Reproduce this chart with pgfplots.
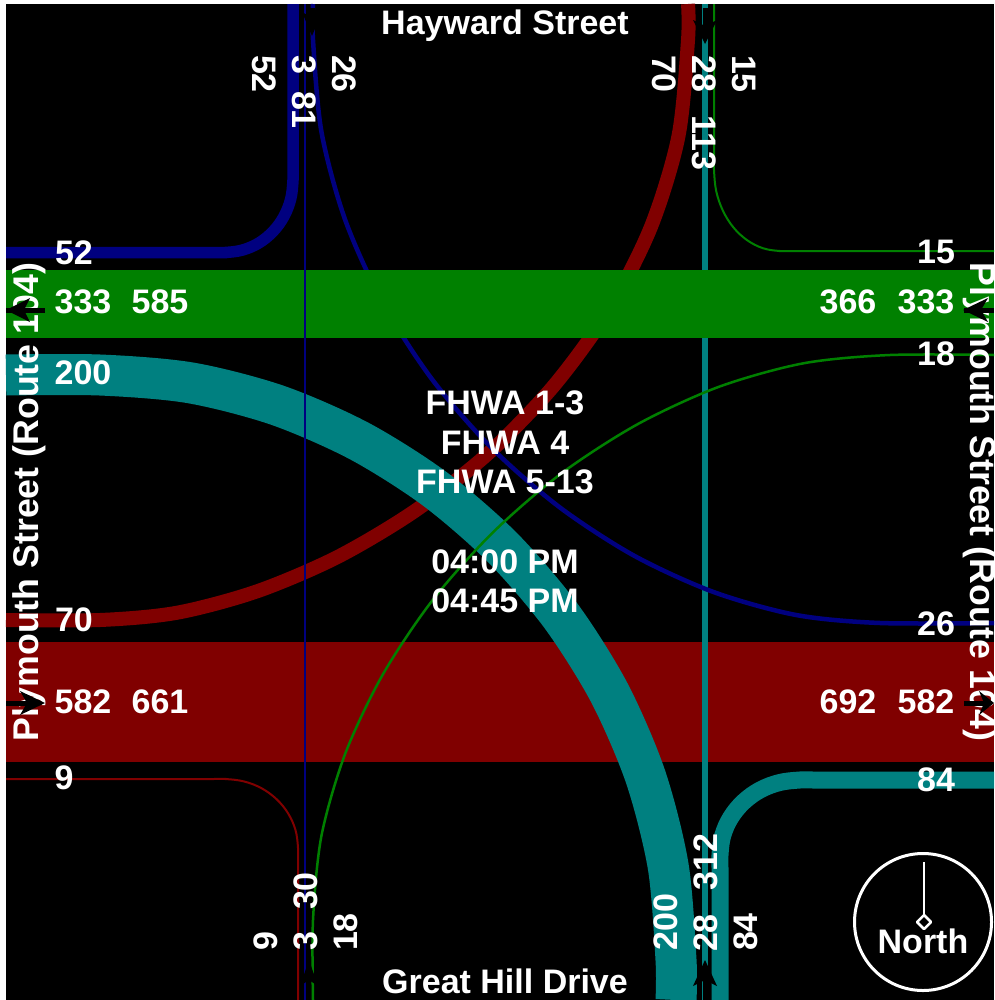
\documentclass[border=0pt]{standalone}
\usepackage{pgfplots}
\pgfplotsset{compat=1.18}
\usepackage{fontspec}
\setmainfont{Liberation Sans}
\definecolor{cnavy}{RGB}{0,0,128}
\definecolor{cgreen}{RGB}{0,128,0}
\definecolor{cteal}{RGB}{0,128,128}
\definecolor{cred}{RGB}{128,0,0}
\tikzset{lab/.style={font=\fontsize{34bp}{36bp}\selectfont\bfseries, text=white, inner sep=0pt, anchor=center},
  road/.style={lab, font=\fontsize{35.7bp}{36bp}\selectfont\bfseries}}
\begin{document}
\begin{tikzpicture}[x=1bp,y=1bp]
\begin{axis}[
  at={(0,0)}, anchor=south west,
  scale only axis, width=994bp, height=1000bp,
  xmin=0, xmax=994, ymin=0, ymax=1000, y dir=reverse,
  hide axis, clip=true,
  every axis plot/.append style={line cap=butt, line join=round},
]
% ground
\addplot[fill=black, draw=none] coordinates {(6,4) (994,4) (994,1000) (6,1000)} -- cycle;
% red through
\addplot[fill=cred, draw=none] coordinates {(6,642) (994,642) (994,762) (6,762)} -- cycle;
% teal 28
\addplot[cteal, line width=6bp] coordinates {(705,4) (705,1000)};
% red 70
\addplot[cred, line width=14bp, smooth, tension=0.5] coordinates {(6,620) (100,620) (177.2,612.7) (257.1,591.3) (337.3,557.1) (414.9,510.9) (487.8,453.8) (553,386.7) (608.3,310.8) (650.9,227) (678.4,136.4) (688,40) (688,4)};
% navy 26
\addplot[cnavy, line width=4.5bp, smooth, tension=0.5] coordinates {(313,4) (313,40) (321.4,131.6) (345.1,219.7) (382.6,302.6) (431.9,379.1) (491.5,447.8) (559.4,507.1) (634.1,555.7) (713.5,592) (796.1,615) (880,623) (994,623)};
% green 15
\addplot[cgreen, line width=2bp, smooth, tension=0.6] coordinates {(714,4) (714,150) (714,170) (716.2,191) (722.8,210.5) (733.3,227.3) (747,240.1) (762.9,248.2) (780,251) (800,251) (994,251)};
% green through
\addplot[fill=cgreen, draw=none] coordinates {(6,270) (994,270) (994,338) (6,338)} -- cycle;
% teal 84, 200
\addplot[cteal, line width=17bp, smooth, tension=0.6] coordinates {(994,780) (820,780) (800,780) (779.3,782.6) (760,790) (743.4,802) (730.7,817.5) (722.7,835.6) (720,855) (720,875) (720,1000)};
\addplot[cteal, line width=41bp, smooth, tension=0.5] coordinates {(6,375) (100,375) (190.2,382.8) (277,405.1) (359,440.9) (434.6,488.7) (502.4,547.5) (561,615.9) (609.2,692.5) (645.4,776.3) (668.1,865.8) (676,960) (676,1000)};
% green 18
\addplot[cgreen, line width=2.5bp, smooth, tension=0.5] coordinates {(994,355) (890,355) (803.4,363.3) (718.6,386.9) (637.6,424.2) (561.5,473.3) (492.8,532.5) (432.6,600.1) (382.8,674.5) (345.2,753.7) (321.4,836) (313,920) (313,1000)};
% navy 52, thin navy
\addplot[cnavy, line width=11.5bp, smooth, tension=0.6] coordinates {(6,252.5) (205,252.5) (225,252.5) (242.6,250) (259,242.9) (273.1,231.4) (283.9,216.5) (290.7,199) (293,180) (293,160) (293,4)};
\addplot[cnavy, line width=1.3bp] coordinates {(305,4) (305,1000)};
% red 9
\addplot[cred, line width=2bp, smooth, tension=0.6] coordinates {(6,779) (205,779) (225,779) (243.9,781.4) (261.5,788.2) (276.6,799.2) (288.2,813.5) (295.5,830.1) (298,848) (298,868) (298,1000)};
% labels
\node[lab] at (axis cs:505,26) {Hayward Street};
\node[lab] at (axis cs:505,981) {Great Hill Drive};
\node[road,rotate=90] at (axis cs:29,502) {Plymouth Street (Route 104)};
\node[road,rotate=-90] at (axis cs:980,502) {Plymouth Street (Route 104)};
\node[lab,rotate=-90] at (axis cs:264,74) {52};
\node[lab,rotate=-90] at (axis cs:304,65) {3};
\node[lab,rotate=-90] at (axis cs:304,110) {81};
\node[lab,rotate=-90] at (axis cs:344,74) {26};
\node[lab,rotate=-90] at (axis cs:664,74) {70};
\node[lab,rotate=-90] at (axis cs:704,74) {28};
\node[lab,rotate=-90] at (axis cs:704,143) {113};
\node[lab,rotate=-90] at (axis cs:744,74) {15};
\node[lab,rotate=90] at (axis cs:266,941) {9};
\node[lab,rotate=90] at (axis cs:306,941) {3};
\node[lab,rotate=90] at (axis cs:306,891) {30};
\node[lab,rotate=90] at (axis cs:346,932) {18};
\node[lab,rotate=90] at (axis cs:666,922) {200};
\node[lab,rotate=90] at (axis cs:706,933) {28};
\node[lab,rotate=90] at (axis cs:706,862) {312};
\node[lab,rotate=90] at (axis cs:746,932) {84};
\node[lab] at (axis cs:74,253) {52};
\node[lab] at (axis cs:83,302) {333};
\node[lab] at (axis cs:160,302) {585};
\node[lab] at (axis cs:83,373) {200};
\node[lab] at (axis cs:74,620) {70};
\node[lab] at (axis cs:83,702) {582};
\node[lab] at (axis cs:160,702) {661};
\node[lab] at (axis cs:64,778) {9};
\node[lab] at (axis cs:936,252) {15};
\node[lab] at (axis cs:848,302) {366};
\node[lab] at (axis cs:926,302) {333};
\node[lab] at (axis cs:936,354) {18};
\node[lab] at (axis cs:936,624) {26};
\node[lab] at (axis cs:848,702) {692};
\node[lab] at (axis cs:926,702) {582};
\node[lab] at (axis cs:936,780) {84};
\node[lab] at (axis cs:505,403) {FHWA 1-3};
\node[lab] at (axis cs:505,443) {FHWA 4};
\node[lab] at (axis cs:505,482) {FHWA 5-13};
\node[lab] at (axis cs:505,562) {04:00 PM};
\node[lab] at (axis cs:505,601) {04:45 PM};
\node[lab] at (axis cs:923,941) {North};
% north circle
\addplot[only marks, mark=o, mark size=68.5bp, mark options={draw=white, line width=3bp}] coordinates {(923,922)};
\addplot[white, line width=2.5bp] coordinates {(924,862) (924,915)};
\addplot[white, fill=black, line width=2.5bp] coordinates {(924,915) (931,922) (924,929) (917,922)} -- cycle;
% arrows
\addplot[black, line width=5bp] coordinates {(6,310) (45,310)};
\addplot[fill=black, draw=none] coordinates {(6,310) (30,298) (24,310) (30,322)} -- cycle;
\addplot[black, line width=5bp] coordinates {(964,310) (994,310)};
\addplot[fill=black, draw=none] coordinates {(963,310) (988,298) (981,310) (988,322)} -- cycle;
\addplot[black, line width=5bp] coordinates {(6,703) (35,703)};
\addplot[fill=black, draw=none] coordinates {(45,703) (20,691) (27,703) (20,715)} -- cycle;
\addplot[black, line width=5bp] coordinates {(964,703) (985,703)};
\addplot[fill=black, draw=none] coordinates {(994,703) (979,691) (984,703) (979,715)} -- cycle;
\addplot[black, line width=5bp] coordinates {(705,975) (705,1000)};
\addplot[fill=black, draw=none] coordinates {(705,960) (717,986) (705,980) (693,986)} -- cycle;
\addplot[black, line width=5bp] coordinates {(705,8) (705,30)};
\addplot[fill=black, draw=none] coordinates {(705,44) (717,20) (705,26) (693,20)} -- cycle;
\addplot[black, line width=5bp] coordinates {(312,8) (312,25)};
\addplot[fill=black, draw=none] coordinates {(312,36) (322,12) (312,18) (302,12)} -- cycle;
\addplot[black, line width=3bp] coordinates {(309,975) (309,996)};
\addplot[fill=black, draw=none] coordinates {(309,960) (318,986) (309,980) (300,986)} -- cycle;
\end{axis}
\end{tikzpicture}
\end{document}
